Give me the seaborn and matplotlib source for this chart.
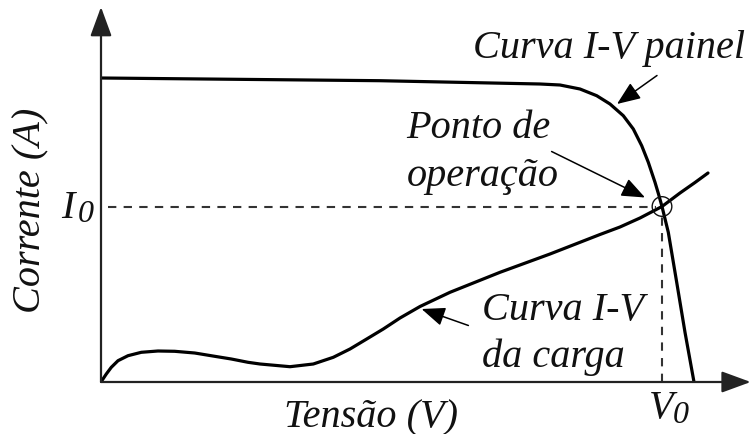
import matplotlib
matplotlib.use("Agg")
import matplotlib.pyplot as plt
import seaborn as sns
import pandas as pd

# Panel I-V characteristic (voltage, current) in arbitrary units
panel_v = [0.0, 13.95, 21.95, 22.95, 23.95, 24.785, 25.45, 26.115, 26.615,
           27.035, 27.365, 27.7, 27.875, 28.05, 28.365, 28.785, 29.2, 29.65]
panel_i = [6.08, 6.026, 5.96, 5.94, 5.86, 5.726, 5.56, 5.326, 5.06,
           4.726, 4.394, 3.994, 3.76, 3.51, 2.994, 1.994, 0.994, 0.0]

# Load I-V characteristic
load_v = [0.0, 0.265, 0.515, 0.85, 1.35, 2.015, 2.85, 3.685, 4.685, 5.685,
          6.515, 7.35, 7.95, 9.45, 10.615, 11.615, 12.45, 13.285, 14.115,
          14.95, 15.95, 17.45, 19.95, 22.45, 24.95, 25.95, 26.95, 28.05,
          28.95, 29.7, 30.35]
load_i = [0.0, 0.16, 0.294, 0.426, 0.526, 0.594, 0.62, 0.614, 0.58, 0.514,
          0.46, 0.394, 0.36, 0.306, 0.36, 0.494, 0.66, 0.86, 1.06,
          1.28, 1.51, 1.794, 2.194, 2.56, 2.95, 3.1, 3.28, 3.51,
          3.78, 3.99, 4.18]

# Operating point (intersection of both curves)
v0 = 28.05
i0 = 3.51

panel = pd.DataFrame({"V": panel_v, "I": panel_i})
load = pd.DataFrame({"V": load_v, "I": load_i})

sns.set_style("white")
plt.rcParams["font.family"] = ["Liberation Serif", "DejaVu Serif"]

W, H = 752, 435
fig = plt.figure(figsize=(W / 100, H / 100), dpi=100)
ax = fig.add_axes([101 / W, 52 / H, 651 / W, 375 / H])
ax.set_xlim(0, 32.55)
ax.set_ylim(0, 7.5)
ax.set_axis_off()

ink = "#111111"
txt = dict(style="italic", fontsize=29, color=ink)
sub = dict(style="italic", fontsize=23, color=ink)

# Axes drawn as arrows
axis_arrow = dict(arrowstyle="-|>,head_length=0.9,head_width=0.33",
                  mutation_scale=20, lw=1.6, color="#222222",
                  shrinkA=0, shrinkB=0)
ax.annotate("", xy=(0, 1.0), xytext=(0, 0), xycoords="axes fraction",
            arrowprops=axis_arrow, annotation_clip=False)
ax.annotate("", xy=(0.998, 0), xytext=(0, 0), xycoords="axes fraction",
            arrowprops=axis_arrow, annotation_clip=False)

# Curves
sns.lineplot(data=panel, x="V", y="I", sort=False, estimator=None,
             color="black", lw=2.3, ax=ax)
sns.lineplot(data=load, x="V", y="I", sort=False, estimator=None,
             color="black", lw=2.3, ax=ax)
for line in ax.lines:
    line.set_solid_joinstyle("round")
    line.set_solid_capstyle("round")

# Guide lines to the operating point
ax.plot([0.35, v0 - 0.3], [i0, i0], ls=(0, (4, 3.5)), lw=1.5, color="#333333")
ax.plot([v0, v0], [0, i0 - 0.17], ls=(0, (4, 3.5)), lw=1.5, color="#333333")
ax.scatter([v0], [i0], s=200, facecolors="none", edgecolors=ink,
           linewidths=1.0, zorder=5)

# Annotation arrows
note_arrow = dict(arrowstyle="-|>,head_length=0.72,head_width=0.29",
                  mutation_scale=20, lw=1.1, color="black",
                  shrinkA=0, shrinkB=0)
ax.annotate("", xy=(25.8, 5.56), xytext=(27.8, 6.13), arrowprops=note_arrow)
ax.annotate("", xy=(27.2, 3.69), xytext=(22.53, 4.61), arrowprops=note_arrow)
ax.annotate("", xy=(16.03, 1.46), xytext=(18.37, 1.13), arrowprops=note_arrow)

# Labels
ax.text(18.6, 6.5, "Curva I-V painel", ha="left", va="baseline", **txt)
ax.text(15.25, 4.9, "Ponto de", ha="left", va="baseline", **txt)
ax.text(15.3, 3.94, "operação", ha="left", va="baseline", **txt)
ax.text(19.05, 1.26, "Curva I-V", ha="left", va="baseline", **txt)
ax.text(19.05, 0.32, "da carga", ha="left", va="baseline", **txt)

# I0 and V0 markers on the axes
ax.text(-2.0, i0 - 0.21, "I", ha="left", va="baseline", clip_on=False, **txt)
ax.text(-1.15, i0 - 0.28, "0", ha="left", va="baseline", clip_on=False, **sub)
ax.text(v0 - 0.65, -0.7, "V", ha="left", va="baseline", clip_on=False, **txt)
ax.text(v0 + 0.55, -0.8, "0", ha="left", va="baseline", clip_on=False, **sub)

fig.text(370.5 / W, 1 - 427 / H, "Tensão (V)", ha="center", va="baseline", **txt)
fig.text(31 / W, 1 - 210.5 / H, "Corrente (A)", ha="center", va="center",
         rotation=90, **txt)

fig.savefig("out.png", dpi=100)
